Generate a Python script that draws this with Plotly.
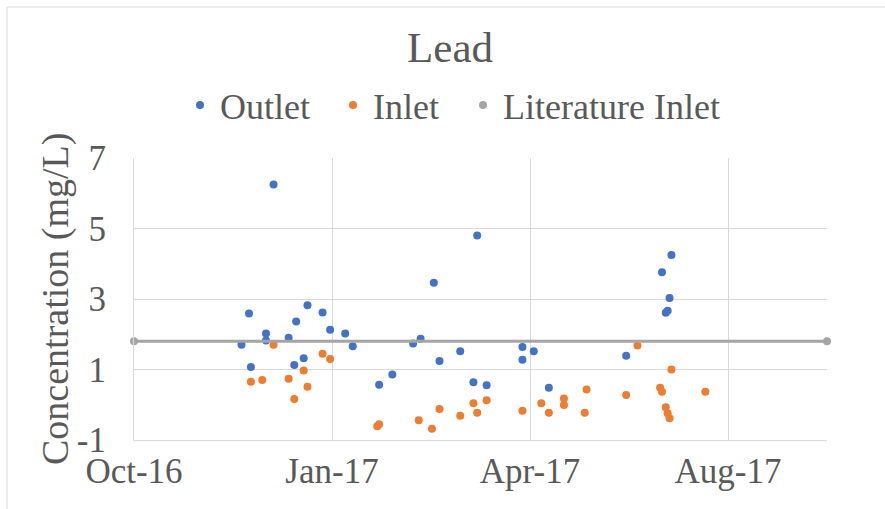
import plotly.graph_objects as go

# ---- data ----
outlet_dates = [
    "2016-11-27", "2016-12-01", "2016-12-02", "2016-12-10", "2016-12-10",
    "2016-12-14", "2016-12-22", "2016-12-25", "2016-12-26", "2016-12-30",
    "2017-01-01", "2017-01-09", "2017-01-13", "2017-01-21", "2017-01-25",
    "2017-02-08", "2017-02-15", "2017-02-26", "2017-03-02", "2017-03-09",
    "2017-03-12", "2017-03-23", "2017-03-30", "2017-04-01", "2017-04-06",
    "2017-04-25", "2017-04-25", "2017-05-01", "2017-05-09", "2017-06-19",
    "2017-07-08", "2017-07-10", "2017-07-11", "2017-07-12", "2017-07-13",
]
outlet_values = [
    1.70, 2.59, 1.07, 2.02, 1.82,
    6.25, 1.90, 1.13, 2.36, 1.32,
    2.82, 2.62, 2.13, 2.02, 1.66,
    0.57, 0.86, 1.74, 1.87, 3.46,
    1.24, 1.52, 0.64, 4.80, 0.55,
    1.64, 1.28, 1.52, 0.48, 1.39,
    3.76, 2.61, 2.67, 3.03, 4.25,
]

inlet_dates = [
    "2016-12-02", "2016-12-08", "2016-12-14", "2016-12-22", "2016-12-25",
    "2016-12-30", "2017-01-01", "2017-01-09", "2017-01-13", "2017-02-07",
    "2017-02-08", "2017-03-01", "2017-03-08", "2017-03-12", "2017-03-23",
    "2017-03-30", "2017-04-01", "2017-04-06", "2017-04-25", "2017-05-05",
    "2017-05-09", "2017-05-17", "2017-05-17", "2017-05-28", "2017-05-29",
    "2017-06-19", "2017-06-25", "2017-07-07", "2017-07-08", "2017-07-10",
    "2017-07-11", "2017-07-12", "2017-07-13", "2017-07-31",
]
inlet_values = [
    0.65, 0.70, 1.70, 0.74, 0.16,
    0.97, 0.51, 1.45, 1.30, -0.61,
    -0.55, -0.44, -0.68, -0.12, -0.31,
    0.04, -0.23, 0.13, -0.17, 0.04,
    -0.23, 0.18, -0.01, -0.23, 0.43,
    0.28, 1.68, 0.48, 0.37, -0.07,
    -0.24, -0.38, 1.00, 0.37,
]

literature_dates = ["2016-10-01", "2017-10-03 12:00"]
literature_values = [1.8, 1.8]

x_tick_dates = ["2016-10-01", "2017-01-14", "2017-04-29", "2017-08-12"]
x_tick_labels = ["Oct-16", "Jan-17", "Apr-17", "Aug-17"]
y_tick_values = [-1, 1, 3, 5, 7]
y_tick_labels = ["-1", "1", "3", "5", "7"]
y_axis_title = "Concentration (mg/L)"

# ---- styles ----
FONT = "Liberation Serif, Times New Roman, serif"
TEXT = "#595959"
GRID = "#D9D9D9"
W, H = 885, 509
PL, PR, PT, PB = 134, 827, 158, 440  # plot-area edges in pixels

fig = go.Figure()
fig.add_trace(go.Scatter(
    x=outlet_dates, y=outlet_values, mode="markers", name="Outlet",
    marker=dict(color="#4472C4", size=8), legend="legend",
))
fig.add_trace(go.Scatter(
    x=inlet_dates, y=inlet_values, mode="markers", name="Inlet",
    marker=dict(color="#ED7D31", size=8), legend="legend2",
))
fig.add_trace(go.Scatter(
    x=literature_dates, y=literature_values, mode="lines+markers",
    name="Literature Inlet", cliponaxis=False, showlegend=False,
    line=dict(color="#A5A5A5", width=3),
    marker=dict(color="#A5A5A5", size=8),
))
# legend-only entry for the literature series (dot symbol as in the original)
fig.add_trace(go.Scatter(
    x=[None], y=[None], mode="markers", name="Literature Inlet",
    marker=dict(color="#A5A5A5", size=8), legend="legend3",
))

legend_font = dict(family=FONT, size=36, color=TEXT)
legend_common = dict(orientation="h", xref="container", xanchor="left",
                     yref="container", y=1 - 105 / H, yanchor="middle",
                     font=legend_font, itemwidth=30,
                     bgcolor="rgba(0,0,0,0)")

fig.update_layout(
    template="none",
    width=W, height=H,
    paper_bgcolor="white", plot_bgcolor="white",
    margin=dict(l=PL, r=W - PR, t=PT, b=H - PB, autoexpand=False),
    font=dict(family=FONT, color=TEXT, size=35),
    title=dict(text="Lead", x=450 / W, xref="container", xanchor="center",
               y=1 - 47 / H, yref="container", yanchor="middle",
               font=dict(family=FONT, size=43, color=TEXT)),
    showlegend=True,
    legend=dict(x=180 / W, **legend_common),
    legend2=dict(x=333 / W, **legend_common),
    legend3=dict(x=463 / W, **legend_common),
    xaxis=dict(
        type="date", automargin=False,
        range=["2016-10-01", "2017-10-03 12:00"],
        tickmode="array", tickvals=x_tick_dates, ticktext=x_tick_labels,
        showgrid=True, gridcolor=GRID, gridwidth=1,
        showline=True, linecolor=GRID, linewidth=1,
        zeroline=False, ticks="", ticklabelstandoff=0,
        tickfont=dict(family=FONT, size=35, color=TEXT),
    ),
    yaxis=dict(
        automargin=False,
        range=[-1, 7], tickmode="array", tickvals=y_tick_values,
        ticktext=y_tick_labels,
        showgrid=True, gridcolor=GRID, gridwidth=1,
        showline=True, linecolor=GRID, linewidth=1,
        zeroline=False, ticks="", ticklabelstandoff=20,
        tickfont=dict(family=FONT, size=35, color=TEXT),
    ),
)

# y-axis title placed as a rotated annotation for exact positioning
fig.add_annotation(
    text=y_axis_title, textangle=-90, showarrow=False,
    xref="paper", yref="paper",
    x=(55 - PL) / (PR - PL), y=0.5, xanchor="center", yanchor="middle",
    font=dict(family=FONT, size=38, color=TEXT),
)

# chart-area border (top and left visible)
fig.add_shape(type="rect", xref="paper", yref="paper",
              x0=(7 - PL) / (PR - PL), x1=(890 - PL) / (PR - PL),
              y0=(PB - 515) / (PB - PT), y1=(PB - 7) / (PB - PT),
              line=dict(color=GRID, width=1), fillcolor="rgba(0,0,0,0)",
              layer="below")

fig.write_html(
    "out.html",
    config={"displayModeBar": False},
    post_script="document.body.style.margin='0';document.body.style.padding='0';",
)
